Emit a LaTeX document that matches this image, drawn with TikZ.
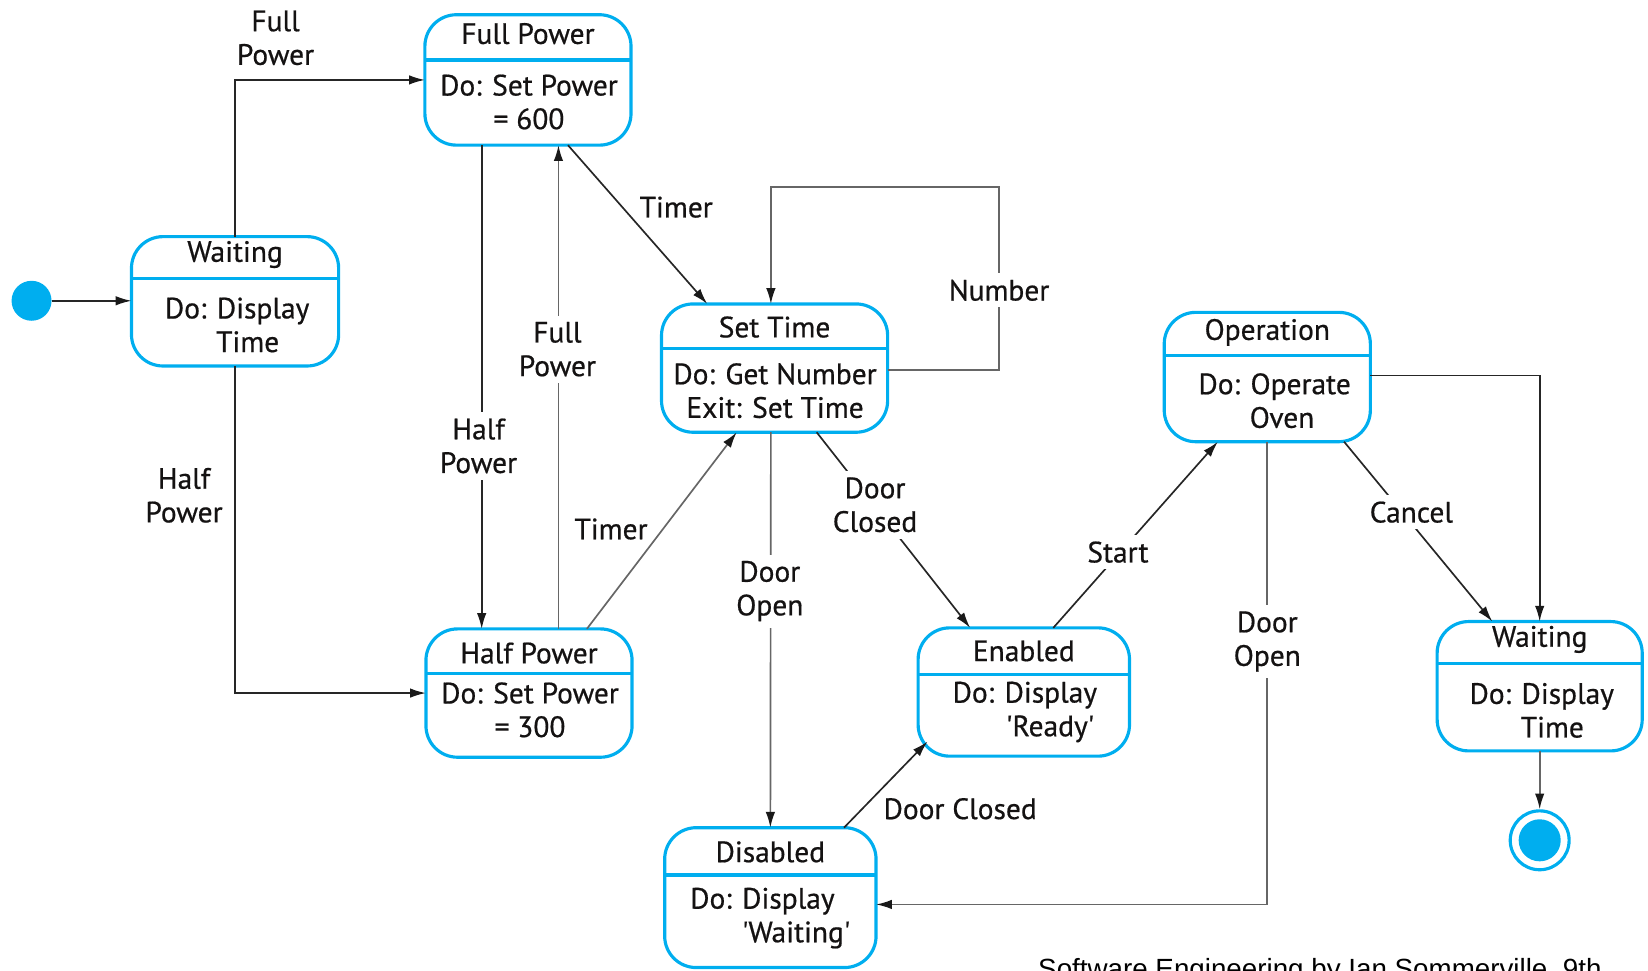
\documentclass[tikz,border=0pt]{standalone}
\usepackage{fontspec}
\setmainfont[FakeBold=0.6]{PT Sans}
\newfontfamily\capfont{Liberation Sans}
\usetikzlibrary{arrows.meta,calc}
\definecolor{ucyan}{RGB}{0,174,239}
\definecolor{ink}{RGB}{20,18,18}
\begin{document}
\begin{tikzpicture}[x=1pt,y=-1pt,
  font=\fontsize{28}{32}\selectfont,
  state/.style={draw=ucyan, line width=3pt, rounded corners=30pt, inner sep=0pt, outer sep=0pt},
  divider/.style={draw=ucyan, line width=3pt},
  txt/.style={text=ink, align=center, inner sep=0pt},
  lbl/.style={text=ink, align=center, inner sep=6pt, fill=white},
  arr/.style={draw=black!85, line width=1.6pt, -{Latex[length=15pt,width=9pt,black!90]}},
  garr/.style={arr, draw=black!60},
]
\useasboundingbox (0,0) rectangle (1567,923);
\clip (0,0) rectangle (1567,923);

% initial and final states
\node[circle, fill=ucyan, minimum size=38pt, inner sep=0pt] (init) at (30,286) {};
\node[circle, draw=ucyan, line width=3pt, minimum size=56pt, inner sep=0pt,
  path picture={\fill[ucyan] (path picture bounding box.center) circle (20pt);}] (fin) at (1464,799) {};

% Waiting 1
\node[state, minimum width=197pt, minimum height=123pt] (w1) at (223.5,286.5) {};
\draw[divider] (w1.west |- 0,265) -- (w1.east |- 0,265);
\node[txt] (w1t) at (223.5,242) {Waiting};
\node[txt] (w1b) at (225.5,309) {Do: Display\\\hspace*{20pt}Time};

% Full Power
\node[state, minimum width=196pt, minimum height=124pt] (fp) at (502,76) {};
\draw[divider] (fp.west |- 0,57) -- (fp.east |- 0,57);
\node[txt] (fpt) at (502,32) {Full Power};
\node[txt] (fpb) at (503,97) {Do: Set Power\\= 600};

% Set Time
\node[state, minimum width=215pt, minimum height=122pt] (st) at (736.5,350) {};
\draw[divider] (st.west |- 0,331) -- (st.east |- 0,331);
\node[txt] (stt) at (736.5,311) {Set Time};
\node[txt] (stb) at (737,371.5) {Do: Get Number\\Exit: Set Time};

% Half Power
\node[state, minimum width=196pt, minimum height=122pt] (hp) at (503,659) {};
\draw[divider] (hp.west |- 0,640) -- (hp.east |- 0,640);
\node[txt] (hpt) at (503,621) {Half Power};
\node[txt] (hpb) at (504,675) {Do: Set Power\\= 300};

% Operation
\node[state, minimum width=196pt, minimum height=123pt] (op) at (1205,358.5) {};
\draw[divider] (op.west |- 0,338) -- (op.east |- 0,338);
\node[txt] (opt) at (1205,316) {Operation};
\node[txt] (opb) at (1212,381) {Do: Operate\\\hspace*{14pt}Oven};

% Enabled
\node[state, minimum width=201pt, minimum height=122pt] (en) at (973.5,658) {};
\draw[divider] (en.west |- 0,641) -- (en.east |- 0,641);
\node[txt] (ent) at (973.5,619) {Enabled};
\node[txt] (enb) at (974.5,677) {Do: Display\\\hspace*{48pt}\textquotesingle Ready\textquotesingle};

% Disabled
\node[state, minimum width=201pt, minimum height=133pt] (di) at (732.5,853.5) {};
\draw[divider] (di.west |- 0,832) -- (di.east |- 0,832);
\node[txt] (dit) at (732.5,810) {Disabled};
\node[txt] (dib) at (725,873) {Do: Display\\\hspace*{64pt}\textquotesingle Waiting\textquotesingle};

% Waiting 2
\node[state, minimum width=195pt, minimum height=123pt] (w2) at (1464,652.5) {};
\draw[divider] (w2.west |- 0,631) -- (w2.east |- 0,631);
\node[txt] (w2t) at (1464,608) {Waiting};
\node[txt] (w2b) at (1466,675.5) {Do: Display\\\hspace*{20pt}Time};

% bend point of the Number loop
\coordinate (nA) at (950,178);

% connectors
\draw[arr] (init) -- (w1.west |- init);
\draw[arr] (w1.north) |- (fp.west);
\draw[arr] (w1.south) |- (hp.west);
\draw[arr] ([xshift=-44pt]fp.south) -- ([xshift=-44pt]fp.south |- hp.north);
\draw[garr] ([xshift=28pt]hp.north) -- ([xshift=28pt]hp.north |- fp.south);
\draw[arr] ([xshift=38pt]fp.south) -- ([xshift=-64pt]st.north);
\draw[garr] ([xshift=55pt]hp.north) -- ([xshift=-36pt]st.south);
\draw[garr] ([yshift=-2pt]st.east) -| (nA) -| ([xshift=-3.5pt]st.north);
\draw[garr] ([xshift=-3.5pt]st.south) -- (di.north);
\draw[arr] ([xshift=40pt]st.south) -- ([xshift=-51pt]en.north);
\draw[arr] ([xshift=28pt]en.north) -- ([xshift=-47pt]op.south);
\draw[garr] (op.south) |- ([yshift=-6.5pt]di.east);
\draw[arr] ([xshift=73pt]op.south) -- ([xshift=-45pt]w2.north);
\draw[arr] ([yshift=1.5pt]op.east) -| (w2.north);
\draw[garr] (w2.south) -- (fin.north);
\draw[arr] ([xshift=70pt]di.north) -- ([shift={(9pt,14pt)}]en.south west);

% labels
\node[lbl] (l1) at (262,36) {Full\\Power};
\node[lbl] (l2) at (175,471) {Half\\Power};
\node[lbl] (l3) at (455,424) {Half\\Power};
\node[lbl] (l4) at (530,332) {Full\\Power};
\node[lbl, fill=none] (l5) at (643,197) {Timer};
\node[lbl, fill=none] (l6) at (581,503) {Timer};
\node[lbl] (l7) at (950,276) {Number};
\node[lbl] (l8) at (732,562) {Door\\Open};
\node[lbl] (l9) at (832,480) {Door\\Closed};
\node[lbl] (l10) at (1063,525) {Start};
\node[lbl] (l11) at (1205,610) {Door\\Open};
\node[lbl] (l12) at (1342,487) {Cancel};
\node[lbl, fill=none] (l13) at (913,769) {Door Closed};

% caption (cut by the lower edge, as in the source)
\node[anchor=base west, inner sep=0pt, font=\capfont\fontsize{26.4}{30}\selectfont, text=black] (cap) at (987,930) {Software Engineering by Ian Sommerville, 9th};
\end{tikzpicture}
\end{document}
